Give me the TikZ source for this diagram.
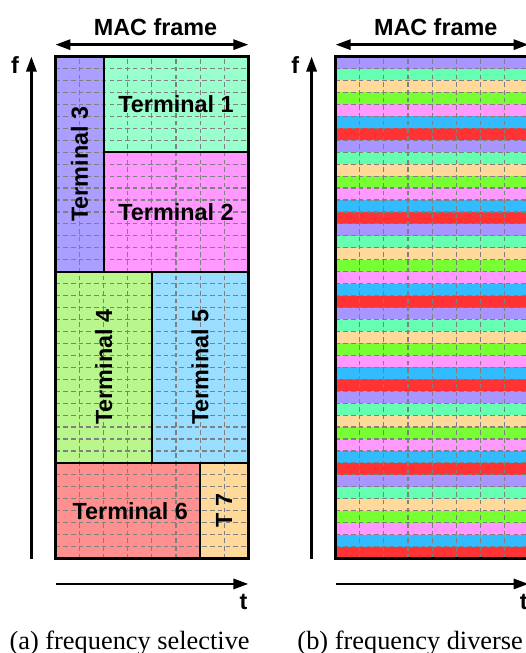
\documentclass[tikz,border=0pt]{standalone}
\usepackage{fontspec}
\setmainfont{Liberation Serif}
\setsansfont{Liberation Sans}
\usepackage{tikz}
\usetikzlibrary{arrows.meta,positioning}

% terminal colours, left panel
\definecolor{termone}{HTML}{99FFCC}
\definecolor{termtwo}{HTML}{FF99FF}
\definecolor{termthree}{HTML}{AA9EFF}
\definecolor{termfour}{HTML}{B9F68C}
\definecolor{termfive}{HTML}{99DDFF}
\definecolor{termsix}{HTML}{FF9090}
\definecolor{termseven}{HTML}{FFD999}
% stripe colours, right panel (top to bottom)
\definecolor{strip0}{HTML}{A995FF}
\definecolor{strip1}{HTML}{66FFB2}
\definecolor{strip2}{HTML}{FFD999}
\definecolor{strip3}{HTML}{77FF33}
\definecolor{strip4}{HTML}{FF99FF}
\definecolor{strip5}{HTML}{33BBFF}
\definecolor{strip6}{HTML}{FF3333}

\tikzset{
  cellgrid/.style={draw=gray, line width=0.65pt, dash pattern=on 2.6pt off 1.8pt},
  region/.style={draw=black, line width=1.3pt},
  frame/.style={draw=black, line width=1.6pt},
  axis/.style={line width=1.4pt, -{Triangle[length=8.5pt,width=5.8pt]}},
  span/.style={line width=1.4pt, {Triangle[length=8.5pt,width=5.8pt]}-{Triangle[length=8.5pt,width=5.8pt]}},
  lbl/.style={font=\sffamily\bfseries\fontsize{13.3}{16}\selectfont, inner sep=0pt},
  capt/.style={font=\fontsize{15}{18}\selectfont, anchor=base west, inner sep=0pt},
}

\begin{document}
\begin{tikzpicture}[x=0.482cm, y=0.239cm]
  \useasboundingbox (-2.303,-7.908) rectangle (19.523,46.736);
  \clip (-2.303,-7.908) rectangle (19.523,46.736);

  % (a) one block per terminal
  \fill[termthree] (0,24) rectangle (2,42);
  \fill[termone]   (2,34) rectangle (8,42);
  \fill[termtwo]   (2,24) rectangle (8,34);
  \fill[termfour]  (0,8)  rectangle (4,24);
  \fill[termfive]  (4,8)  rectangle (8,24);
  \fill[termsix]   (0,0)  rectangle (6,8);
  \fill[termseven] (6,0)  rectangle (8,8);

  \foreach \i in {1,...,7}
    \draw[cellgrid] (\i,0) -- (\i,42);
  \foreach \j in {1,...,41}
    \draw[cellgrid] (0,\j) -- (8,\j);

  \draw[region] (2,24) -- (2,42);
  \draw[region] (2,34) -- (8,34);
  \draw[region] (0,24) -- (8,24);
  \draw[region] (4,8) -- (4,24);
  \draw[region] (0,8) -- (8,8);
  \draw[region] (6,0) -- (6,8);
  \draw[frame] (0,0) rectangle (8,42);

  \node[lbl] (term1) at (5,38) {Terminal 1};
  \node[lbl] (term2) at (5,29) {Terminal 2};
  \node[lbl, rotate=90] (term3) at (1,33) {Terminal 3};
  \node[lbl, rotate=90] (term4) at (2,16) {Terminal 4};
  \node[lbl, rotate=90] (term5) at (6,16) {Terminal 5};
  \node[lbl] (term6) at (3.1,4) {Terminal 6};
  \node[lbl, rotate=90] (term7) at (7,4) {T 7};

  % axes
  \coordinate (fbotA) at (-1,0);
  \coordinate (ftopA) at (-1,42);
  \draw[axis] (fbotA) -- (ftopA);
  \node[lbl] (fA) at (-1.68,41.3) {f};

  \coordinate (macwA) at (0,43);
  \coordinate (maceA) at (8,43);
  \draw[span] (macwA) -- (maceA);
  \node[lbl] (macA) at (4.15,44.5) {MAC frame};

  \coordinate (twA) at (0,-2.13);
  \coordinate (teA) at (8,-2.13);
  \draw[axis] (twA) -- (teA);
  \node[lbl] (tA) at (7.8,-3.68) {t};

  \node[capt] (captA) at (-1.92,-7.6) {(a)\ frequency selective};

  % (b) interleaved stripes
  \begin{scope}[xshift=5.604cm]
    \foreach \r in {0,...,41} {
      \pgfmathtruncatemacro\m{mod(\r,7)}
      \fill[strip\m] (0,41-\r) rectangle (8,42-\r);
    }
    \foreach \i in {1,...,7}
      \draw[cellgrid] (\i,0) -- (\i,42);
    \foreach \j in {1,...,41}
      \draw[cellgrid] (0,\j) -- (8,\j);
    \draw[frame] (0,0) rectangle (8,42);

    \coordinate (fbotB) at (-1,0);
    \coordinate (ftopB) at (-1,42);
    \draw[axis] (fbotB) -- (ftopB);
    \node[lbl] (fB) at (-1.68,41.3) {f};

    \coordinate (macwB) at (0,43);
    \coordinate (maceB) at (8,43);
    \draw[span] (macwB) -- (maceB);
    \node[lbl] (macB) at (4.15,44.5) {MAC frame};

    \coordinate (twB) at (0,-2.13);
    \coordinate (teB) at (8,-2.13);
    \draw[axis] (twB) -- (teB);
    \node[lbl] (tB) at (7.8,-3.68) {t};

    \node[capt] (captB) at (-1.6,-7.6) {(b)\ frequency diverse};
  \end{scope}
\end{tikzpicture}
\end{document}
